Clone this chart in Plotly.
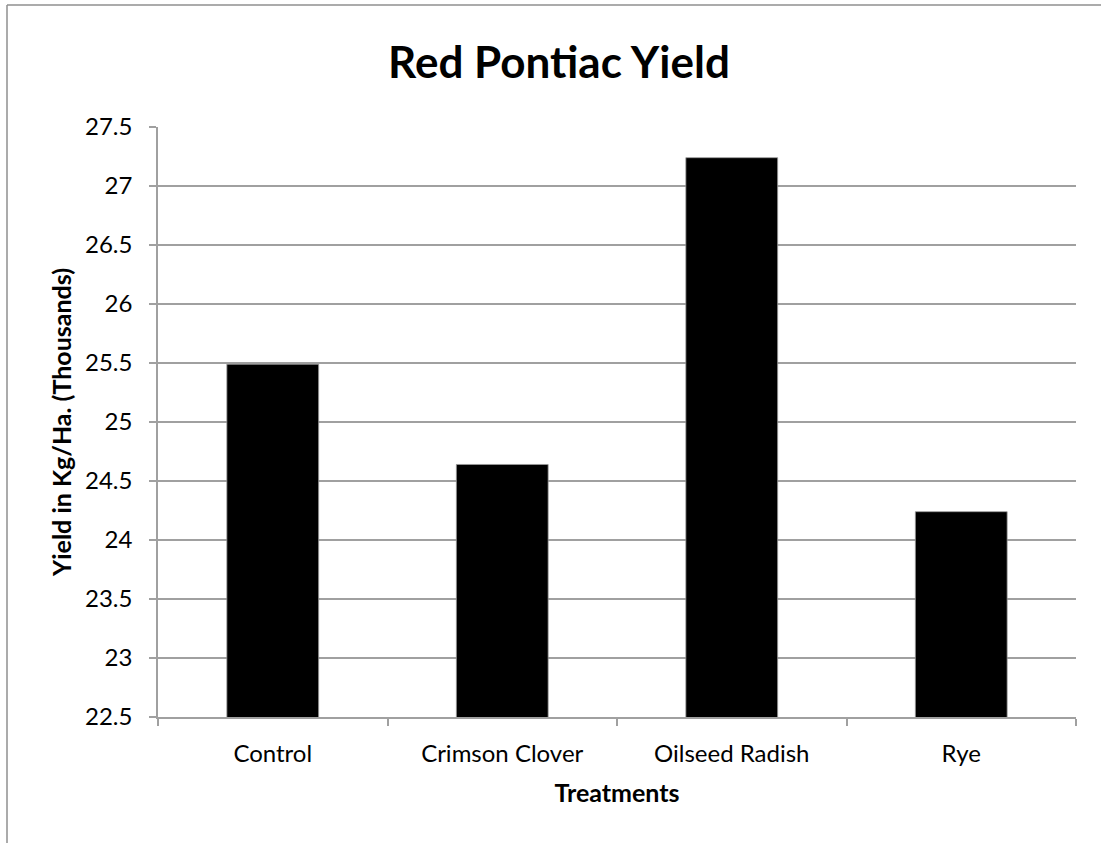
import plotly.graph_objects as go

categories = ["Control", "Crimson Clover", "Oilseed Radish", "Rye"]
yield_thousands = [25.49, 24.64, 27.24, 24.24]
y_ticks = [22.5, 23, 23.5, 24, 24.5, 25, 25.5, 26, 26.5, 27, 27.5]

FONT = "Lato"
GRAY = "#a0a0a0"

fig = go.Figure()
fig.add_trace(go.Bar(
    x=categories,
    y=yield_thousands,
    marker=dict(color="black", line=dict(color="#9a9a9a", width=0.8)),
    width=0.4,
))

W, H = 1101, 843
ml, mr, mt, mb = 158, 25, 127, 126
pw, ph = W - ml - mr, H - mt - mb

def px_to_paper_x(px):
    return (px - ml) / pw

def px_to_paper_y(py):
    return (H - mb - py) / ph

fig.update_layout(
    width=W, height=H,
    margin=dict(l=ml, r=mr, t=mt, b=mb, pad=0),
    paper_bgcolor="white",
    plot_bgcolor="white",
    showlegend=False,
    font=dict(family=FONT, color="black"),
    title=dict(
        text="<b>Red Pontiac Yield</b>",
        font=dict(family=FONT, size=44, color="black"),
        x=px_to_paper_x(559), xref="paper", xanchor="center",
        y=1 - 63 / H, yref="container", yanchor="middle",
    ),
    xaxis=dict(
        showline=True, linecolor=GRAY, linewidth=1.5,
        ticks="outside", tickson="boundaries", ticklen=7, tickcolor=GRAY, tickwidth=1.5,
        showgrid=False,
        ticklabelstandoff=14,
        tickfont=dict(family=FONT, size=24, color="black"),
        title=dict(text="<b>Treatments</b>", font=dict(family=FONT, size=25, color="black"), standoff=19),
    ),
    yaxis=dict(
        range=[22.5, 27.5],
        tickvals=y_ticks,
        ticktext=[f"{v:g}" for v in y_ticks],
        showline=True, linecolor=GRAY, linewidth=1.5,
        ticks="outside", ticklen=7, tickcolor=GRAY, tickwidth=1.5,
        ticklabelstandoff=12,
        showgrid=True, gridcolor=GRAY, gridwidth=1.5,
        zeroline=False,
        tickfont=dict(family=FONT, size=24, color="black"),
        title=dict(text="<b>Yield in Kg/Ha. (Thousands)</b>", font=dict(family=FONT, size=25, color="black"), standoff=6),
    ),
    bargap=0.6,
)

# outer chart-area frame (partially visible in the reference)
frame_color = "#8f8f8f"
fig.add_shape(type="line", xref="paper", yref="paper",
              x0=px_to_paper_x(7), x1=px_to_paper_x(1110),
              y0=px_to_paper_y(5), y1=px_to_paper_y(5),
              line=dict(color=frame_color, width=1.5))
fig.add_shape(type="line", xref="paper", yref="paper",
              x0=px_to_paper_x(7), x1=px_to_paper_x(7),
              y0=px_to_paper_y(5), y1=px_to_paper_y(850),
              line=dict(color=frame_color, width=1.5))

fig.write_html("out.html")
